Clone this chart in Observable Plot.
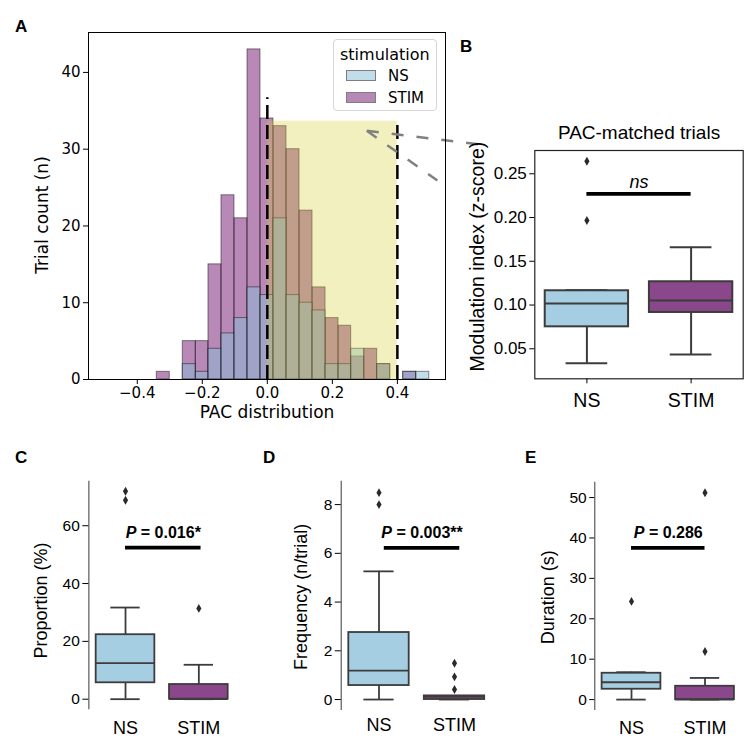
<!DOCTYPE html>
<html><head><meta charset="utf-8">
<script src="https://cdn.jsdelivr.net/npm/d3@7"></script>
<script src="https://cdn.jsdelivr.net/npm/@observablehq/plot@0.6"></script>
<style>
body{margin:0;background:#fff;}
#fig{position:relative;width:755px;height:751px;background:#fff;overflow:hidden;}
#fig > svg{position:absolute;margin:0;}
.plabel{position:absolute;font:bold 17px "Liberation Sans",Arial,sans-serif;line-height:1;color:#000;}
.legend{position:absolute;border:1px solid #d6d6d6;border-radius:4px;background:rgba(255,255,255,0.8);font-family:"DejaVu Sans",sans-serif;color:#000;box-sizing:border-box;}
.legend span{position:absolute;line-height:1;white-space:nowrap;}
.legend i{position:absolute;display:block;box-sizing:border-box;}
</style></head><body><div id="fig"></div>
<script>
const SANS = "'Liberation Sans', Arial, sans-serif";
const DEJAVU = "'DejaVu Sans', sans-serif";

// ---------- Panel A data ----------
const binEdges = [-0.340,-0.300,-0.260,-0.220,-0.181,-0.141,-0.101,-0.061,-0.021,0.019,0.059,0.099,0.139,0.179,0.219,0.258,0.298,0.338,0.378,0.418,0.458,0.498];
const nsCounts   = [0,0,2,1,4,6,8,12,11,21,11,10,9,2,2,4,0,2,0,1,1];
const stimCounts = [1,0,5,5,15,24,21,43,34,33,30,22,12,8,7,3,4,2,0,1,0];
const pacTicks = [-0.4,-0.2,0,0.2,0.4];
const countTicks = [0,10,20,30,40];
const pacWindow = [0, 0.4];
const pacWindowTop = 33.65;
const cutoffTops = [36.7, 33.65];
const calloutX = [0.306, 0.655, 0.523];
const calloutY = [32.4, 30.6, 25.93];

// ---------- Box panels data ----------
const groups = ["NS", "STIM"];
// B: modulation index
const miLow = [0.0335, 0.0435], miQ1 = [0.0751, 0.0915], miMed = [0.1018, 0.1052], miQ3 = [0.1163, 0.1266], miHigh = [0.1170, 0.1661];
const miOutliers = [[0.2644, 0.1966], []];
const miTicks = [0.05, 0.10, 0.15, 0.20, 0.25];
const miSigLevel = 0.2271;
// C: proportion
const propLow = [0, 0], propQ1 = [5.67, 0], propMed = [12.46, 0], propQ3 = [22.3, 5.08], propHigh = [31.7, 11.9];
const propOutliers = [[71.9, 68.8], [31.4]];
const propTicks = [0, 20, 40, 60];
const propSigLevel = 52.4;
// D: frequency
const freqLow = [0, 0], freqQ1 = [0.574, 0], freqMed = [1.19, 0.12], freqQ3 = [2.75, 0.15], freqHigh = [5.26, 0.15];
const freqOutliers = [[8.49, 8.0], [1.49, 0.93, 0.41]];
const freqTicks = [0, 2, 4, 6, 8];
const freqSigLevel = 6.22;
// E: duration
const durLow = [0, 0], durQ1 = [2.56, 0], durMed = [4.29, 0], durQ3 = [6.52, 3.3], durHigh = [6.77, 5.36];
const durOutliers = [[24.3], [51.2, 11.9]];
const durTicks = [0, 10, 20, 30, 40, 50];
const durSigLevel = 37.55;

const pTexts = [" = 0.016*", " = 0.003**", " = 0.286"];

const nsHistColor = "#87bdd7", stimHistColor = "#71116e";
const boxColors = ["#a6cee3", "#8b478b"];
const edgeColor = "#3c3c3c";

const fig = document.getElementById("fig");
function place(el, left, top) { el.style.left = left + "px"; el.style.top = top + "px"; fig.appendChild(el); }

// ---------- Panel A ----------
const bins = nsCounts.map((_, i) => ({x1: binEdges[i], x2: binEdges[i + 1], ns: nsCounts[i], stim: stimCounts[i]}));
const plotA = Plot.plot({
  width: 490, height: 425, marginLeft: 88, marginRight: 45, marginTop: 32, marginBottom: 46,
  x: {domain: [-0.55, 0.548]}, y: {domain: [0, 45.2]},
  style: {fontFamily: DEJAVU, fontSize: "15px", color: "#000", background: "transparent", overflow: "visible"},
  marks: [
    Plot.rect(bins.filter(d => d.stim > 0), {x1: "x1", x2: "x2", y1: 0, y2: "stim", fill: stimHistColor, fillOpacity: 0.5, stroke: "#000", strokeOpacity: 0.45, strokeWidth: 1}),
    Plot.rect(bins.filter(d => d.ns > 0), {x1: "x1", x2: "x2", y1: 0, y2: "ns", fill: nsHistColor, fillOpacity: 0.5, stroke: "#000", strokeOpacity: 0.45, strokeWidth: 1}),
    Plot.rect([pacWindow], {x1: d => d[0], x2: d => d[1], y1: 0, y2: pacWindowTop, fill: "#d8ce2a", fillOpacity: 0.3}),
    Plot.ruleX(pacWindow, {x: d => d, y1: 0, y2: (d, i) => cutoffTops[i], stroke: "#000", strokeWidth: 2.5, strokeDasharray: "14,6"}),
    Plot.link([1, 2], {x1: calloutX[0], y1: calloutY[0], x2: i => calloutX[i], y2: i => calloutY[i], stroke: "#808080", strokeWidth: 2.5, strokeDasharray: "12,13"}),
    Plot.frame({stroke: "#000", strokeWidth: 1}),
    Plot.axisX({ticks: pacTicks, tickFormat: d3.format(".1f"), tickSize: 5, tickPadding: 3, label: null, fontSize: 15}),
    Plot.axisY({ticks: countTicks, tickSize: 5, tickPadding: 3, label: null, fontSize: 15}),
    Plot.text(["PAC distribution"], {text: d => d, frameAnchor: "bottom", textAnchor: "middle", lineAnchor: "middle", dy: 33, fontSize: 17}),
    Plot.text(["Trial count (n)"], {text: d => d, frameAnchor: "left", textAnchor: "middle", lineAnchor: "middle", rotate: -90, dx: -46, dy: 9, fontSize: 17})
  ]
});
place(plotA, 0, 0);

// legend for A
const legend = document.createElement("div");
legend.className = "legend";
legend.style.width = "104px"; legend.style.height = "72px";
legend.innerHTML = `<span style="left:6px;top:7px;font-size:16px">stimulation</span>` +
  [[nsHistColor, 29], [stimHistColor, 51]].map(([c, t], k) =>
    `<i style="left:12px;top:${t + 1}px;width:30px;height:11px;background:${c};opacity:0.5;border:1px solid #000"></i>` +
    `<span style="left:54px;top:${t}px;font-size:15px">${groups[k]}</span>`).join("");
place(legend, 333, 39);

// ---------- Box panels ----------
const ctx = document.createElement("canvas").getContext("2d");
function tw(str, font) { ctx.font = font; return ctx.measureText(str).width; }

function boxPanel(o) {
  const rows = groups.map((g, i) => ({i, lo: o.lo[i], q1: o.q1[i], med: o.med[i], q3: o.q3[i], hi: o.hi[i], fill: boxColors[i]}));
  const outl = o.outliers.flatMap((arr, i) => arr.map(v => ({i, v})));
  const lw = o.lw || 1.8;
  const mid = (o.sigX[0] + o.sigX[1]) / 2;
  const marks = [];
  if (o.frame) marks.push(Plot.frame({stroke: "#222", strokeWidth: 1.2}));
  else marks.push(Plot.ruleX([-0.5], {x: d => d, stroke: "#666", strokeWidth: 1.3}));
  marks.push(
    Plot.ruleX(rows, {x: "i", y1: "lo", y2: "q1", stroke: edgeColor, strokeWidth: lw}),
    Plot.ruleX(rows, {x: "i", y1: "q3", y2: "hi", stroke: edgeColor, strokeWidth: lw}),
    Plot.ruleY(rows, {y: "lo", x1: d => d.i - 0.2, x2: d => d.i + 0.2, stroke: edgeColor, strokeWidth: lw}),
    Plot.ruleY(rows, {y: "hi", x1: d => d.i - 0.2, x2: d => d.i + 0.2, stroke: edgeColor, strokeWidth: lw}),
    Plot.rect(rows, {x1: d => d.i - 0.4, x2: d => d.i + 0.4, y1: "q1", y2: "q3", fill: "fill", stroke: edgeColor, strokeWidth: lw}),
    Plot.ruleY(rows, {y: "med", x1: d => d.i - 0.4, x2: d => d.i + 0.4, stroke: edgeColor, strokeWidth: lw}),
    Plot.dot(outl, {x: "i", y: "v", symbol: "diamond", r: 2.7, fill: "#2a2a2a", stroke: "none"}),
    Plot.ruleY([o.sigLevel], {y: d => d, x1: o.sigX[0], x2: o.sigX[1], stroke: "#000", strokeWidth: 3.7}),
    Plot.axisY({ticks: o.yTicks, tickFormat: o.yFormat, tickSize: o.ytSize, tickPadding: 3, label: null, fontSize: o.tickFont}),
    Plot.axisX({ticks: [0, 1], tickFormat: i => groups[i], tickSize: o.xtSize, tickPadding: o.xtPad, label: null, fontSize: o.xFont}),
    Plot.text([o.label], {text: d => d, frameAnchor: "left", textAnchor: "middle", lineAnchor: "middle", rotate: -90, dx: o.labelDx, dy: o.labelDy, fontSize: o.labelFont})
  );
  if (o.title) marks.push(Plot.text([o.title], {text: d => d, frameAnchor: "top", textAnchor: "middle", lineAnchor: "bottom", dy: -12, fontSize: 19}));
  if (o.sigItalic) {
    marks.push(Plot.text([o.sigItalic], {text: d => d, x: mid, y: o.sigLevel, lineAnchor: "bottom", dy: -6, fontStyle: "italic", fontSize: 18}));
  } else {
    const fs = 16;
    const wP = tw("P", `italic bold ${fs}px 'Liberation Sans'`);
    const wR = tw(o.pText, `bold ${fs}px 'Liberation Sans'`);
    const junction = -(wP + wR) / 2 + wP;
    marks.push(
      Plot.text(["P"], {text: d => d, x: mid, y: o.sigLevel, textAnchor: "end", dx: junction, lineAnchor: "bottom", dy: -10, fontStyle: "italic", fontWeight: "bold", fontSize: fs}),
      Plot.text([o.pText], {text: d => d, x: mid, y: o.sigLevel, textAnchor: "start", dx: junction, lineAnchor: "bottom", dy: -10, fontWeight: "bold", fontSize: fs})
    );
  }
  return Plot.plot({
    width: o.width, height: o.height, marginLeft: o.ml, marginRight: o.mr, marginTop: o.mt, marginBottom: o.mb,
    x: {domain: [-0.5, 1.5]}, y: {domain: o.yDomain}, color: {type: "identity"},
    style: {fontFamily: SANS, fontSize: o.tickFont + "px", color: "#000", background: "transparent", overflow: "visible"},
    marks
  });
}

place(boxPanel({
  width: 315, height: 320, ml: 94.3, mr: 12.3, mt: 50, mb: 41.7, frame: true, lw: 2,
  lo: miLow, q1: miQ1, med: miMed, q3: miQ3, hi: miHigh, outliers: miOutliers,
  yDomain: [0.0157, 0.2766], yTicks: miTicks, yFormat: d3.format(".2f"), ytSize: 5, tickFont: 17,
  xtSize: 5, xtPad: 9, xFont: 19.5,
  label: "Modulation index (z-score)", labelDx: -57, labelDy: -8, labelFont: 19.5,
  title: "PAC-matched trials", sigLevel: miSigLevel, sigX: [0, 1], sigItalic: "ns"
}), 440, 100);

place(boxPanel({
  width: 260, height: 290, ml: 88.35, mr: 25, mt: 20.7, mb: 40.7,
  lo: propLow, q1: propQ1, med: propMed, q3: propQ3, hi: propHigh, outliers: propOutliers,
  yDomain: [-3.67, 75.4], yTicks: propTicks, ytSize: 6, tickFont: 15.5,
  xtSize: 0, xtPad: 11.3, xFont: 18,
  label: "Proportion (%)", labelDx: -48, labelDy: 5, labelFont: 18,
  sigLevel: propSigLevel, sigX: [0, 1.03], pText: pTexts[0]
}), 0, 460);

place(boxPanel({
  width: 240, height: 290, ml: 70.75, mr: 18.25, mt: 20.7, mb: 40,
  lo: freqLow, q1: freqQ1, med: freqMed, q3: freqQ3, hi: freqHigh, outliers: freqOutliers,
  yDomain: [-0.45, 8.96], yTicks: freqTicks, ytSize: 6, tickFont: 15.5,
  xtSize: 0, xtPad: 7.6, xFont: 18,
  label: "Frequency (n/trial)", labelDx: -40, labelDy: 1, labelFont: 18,
  sigLevel: freqSigLevel, sigX: [0.07, 1.07], pText: pTexts[1]
}), 270, 460);

place(boxPanel({
  width: 235, height: 290, ml: 74.25, mr: 13.75, mt: 21.7, mb: 40,
  lo: durLow, q1: durQ1, med: durMed, q3: durQ3, hi: durHigh, outliers: durOutliers,
  yDomain: [-2.7, 53.8], yTicks: durTicks, ytSize: 5, tickFont: 15.5,
  xtSize: 0, xtPad: 10.6, xFont: 18,
  label: "Duration (s)", labelDx: -47, labelDy: 1, labelFont: 18,
  sigLevel: durSigLevel, sigX: [0, 1], pText: pTexts[2]
}), 520, 460);

// panel letters
[["A", 15, 18], ["B", 460, 38], ["C", 15, 449], ["D", 263, 449], ["E", 525, 449]].forEach(([t, x, y]) => {
  const d = document.createElement("div");
  d.className = "plabel"; d.textContent = t;
  place(d, x, y);
});
</script></body></html>
